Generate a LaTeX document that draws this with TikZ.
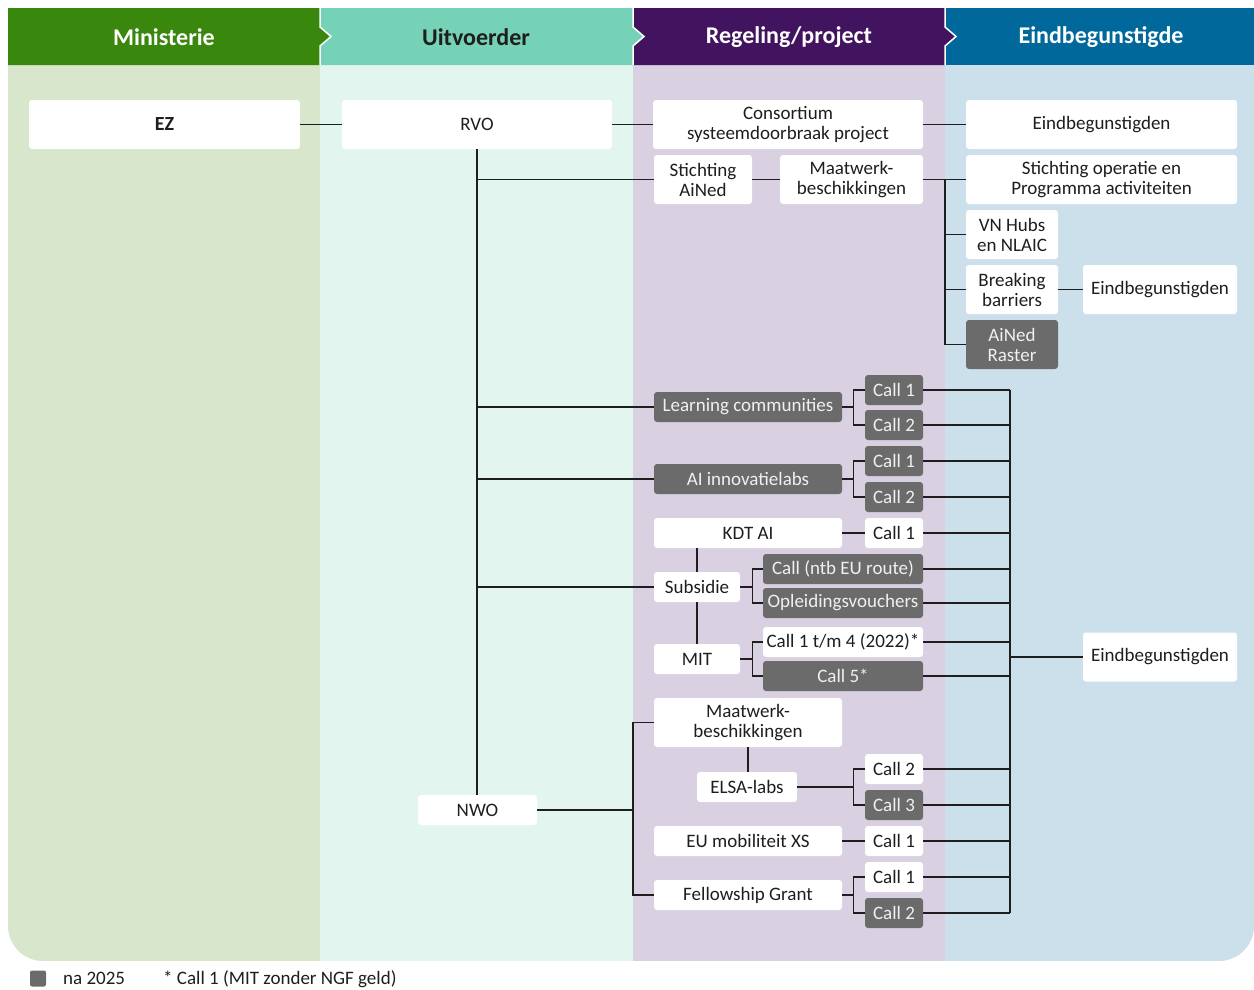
\documentclass[tikz,border=0pt]{standalone}
\usepackage{fontspec}
\setmainfont{Carlito}
\usetikzlibrary{positioning}

\definecolor{minKop}{HTML}{39870C}
\definecolor{uitKop}{HTML}{76D2B6}
\definecolor{regKop}{HTML}{42145F}
\definecolor{eindKop}{HTML}{01689B}
\definecolor{minLicht}{HTML}{D8E6CB}
\definecolor{uitLicht}{HTML}{E3F5EF}
\definecolor{regLicht}{HTML}{D9D0E1}
\definecolor{eindLicht}{HTML}{CCE0EB}
\definecolor{grijs}{HTML}{6B6B6B}
\definecolor{tekst}{HTML}{1E1E1E}

\tikzset{
  wbox/.style={fill=white, rounded corners=3pt, inner sep=0pt, align=center,
    text=tekst, font=\fontsize{19}{20}\selectfont},
  gbox/.style={wbox, fill=grijs, text=white!94!black},
  lijn/.style={draw=tekst, line width=1.3pt},
  kop/.style={font=\fontsize{24}{26}\selectfont\bfseries},
}

\begin{document}
\begin{tikzpicture}[x=1pt,y=-1pt]
    \useasboundingbox (0,0) rectangle (1254,989);
    % kolommen
    \begin{scope}
        \clip[rounded corners=35pt] (8,30) rectangle (1254,961);
        \fill[minLicht] (8,30) rectangle (320,961);
        \fill[uitLicht] (320,30) rectangle (633,961);
        \fill[regLicht] (633,30) rectangle (945,961);
        \fill[eindLicht] (945,30) rectangle (1254,961);
    \end{scope}
    % koppen
    \fill[eindKop] (945,8) rectangle (1254,65);
    \fill[regKop] (633,8) -- (945,8) -- (945,27) -- (956,36.5) -- (945,46) -- (945,65) -- (633,65) -- cycle;
    \fill[uitKop] (320,8) -- (633,8) -- (633,27) -- (644,36.5) -- (633,46) -- (633,65) -- (320,65) -- cycle;
    \fill[minKop] (8,8) -- (320,8) -- (320,27) -- (331,36.5) -- (320,46) -- (320,65) -- (8,65) -- cycle;
    \draw[white, line width=1.5pt] (320,8) -- (320,27) -- (331,36.5) -- (320,46) -- (320,65);
    \draw[white, line width=1.5pt] (633,8) -- (633,27) -- (644,36.5) -- (633,46) -- (633,65);
    \draw[white, line width=1.5pt] (945,8) -- (945,27) -- (956,36.5) -- (945,46) -- (945,65);
    \node[kop, text=white] (kopMin) at (164,37) {Ministerie};
    \node[kop, text=tekst] (kopUit) at (476,37) {Uitvoerder};
    \node[kop, text=white] (kopReg) at (789,37) {Regeling/project};
    \node[kop, text=white] (kopEind) at (1101,37) {Eindbegunstigde};

    % ministerie en uitvoerders
    \node[wbox, minimum width=271pt, minimum height=49pt, font=\fontsize{20}{20}\selectfont\bfseries] (ez) at (164.5,124.5) {EZ};
    \node[wbox, minimum width=270pt, minimum height=49pt] (rvo) at (477,124.5) {RVO};
    \node[wbox, minimum width=119pt, minimum height=30pt] (nwo) at (477.5,810) {NWO};

    % RVO regelingen
    \node[wbox, minimum width=270pt, minimum height=49pt] (consortium) at (788,124.5) {Consortium\\systeemdoorbraak project};
    \node[wbox, minimum width=98pt, minimum height=49pt] (stAined) at (703,179.5) {Stichting\\AiNed};
    \node[wbox, minimum width=143pt, minimum height=49pt] (mwRvo) at (851.5,179.5) {Maatwerk-\\beschikkingen};
    \node[gbox, minimum width=188pt, minimum height=30pt] (learning) at (748,407) {Learning communities};
    \node[gbox, minimum width=58pt, minimum height=30pt] (lcCall1) at (894,390) {Call 1};
    \node[gbox, minimum width=58pt, minimum height=30pt] (lcCall2) at (894,425) {Call 2};
    \node[gbox, minimum width=188pt, minimum height=30pt] (innovatie) at (748,479) {AI innovatielabs};
    \node[gbox, minimum width=58pt, minimum height=30pt] (ilCall1) at (894,461) {Call 1};
    \node[gbox, minimum width=58pt, minimum height=30pt] (ilCall2) at (894,497) {Call 2};
    \node[wbox, minimum width=188pt, minimum height=30pt] (kdt) at (748,533) {KDT AI};
    \node[wbox, minimum width=58pt, minimum height=30pt] (kdtCall1) at (894,533) {Call 1};
    \node[wbox, minimum width=86pt, minimum height=30pt] (subsidie) at (697,587) {Subsidie};
    \node[gbox, minimum width=160pt, minimum height=30pt] (ntbEU) at (843,569) {Call (ntb EU route)};
    \node[gbox, minimum width=160pt, minimum height=30pt] (vouchers) at (843,603) {Opleidingsvouchers};
    \node[wbox, minimum width=86pt, minimum height=30pt] (mit) at (697,659) {MIT};
    \node[wbox, minimum width=160pt, minimum height=30pt] (mitCall14) at (843,642) {Call 1 t/m 4 (2022)*};
    \node[gbox, minimum width=160pt, minimum height=30pt] (mitCall5) at (843,676) {Call 5*};

    % NWO regelingen
    \node[wbox, minimum width=188pt, minimum height=49pt] (mwNwo) at (748,722.5) {Maatwerk-\\beschikkingen};
    \node[wbox, minimum width=100pt, minimum height=30pt] (elsa) at (747,787) {ELSA-labs};
    \node[wbox, minimum width=58pt, minimum height=30pt] (elsaCall2) at (894,769) {Call 2};
    \node[gbox, minimum width=58pt, minimum height=30pt] (elsaCall3) at (894,805) {Call 3};
    \node[wbox, minimum width=188pt, minimum height=30pt] (euMob) at (748,841) {EU mobiliteit XS};
    \node[wbox, minimum width=58pt, minimum height=30pt] (euCall1) at (894,841) {Call 1};
    \node[wbox, minimum width=188pt, minimum height=30pt] (fellow) at (748,895) {Fellowship Grant};
    \node[wbox, minimum width=58pt, minimum height=30pt] (fgCall1) at (894,877) {Call 1};
    \node[gbox, minimum width=58pt, minimum height=30pt] (fgCall2) at (894,913) {Call 2};

    % eindbegunstigden
    \node[wbox, minimum width=271pt, minimum height=49pt] (eindA) at (1101.5,124.5) {Eindbegunstigden};
    \node[wbox, minimum width=271pt, minimum height=49pt] (stOperatie) at (1101.5,179.5) {Stichting operatie en\\Programma activiteiten};
    \node[wbox, minimum width=92pt, minimum height=49pt] (vnHubs) at (1012,234.5) {VN Hubs\\en NLAIC};
    \node[wbox, minimum width=92pt, minimum height=49pt] (breaking) at (1012,289.5) {Breaking\\barriers};
    \node[wbox, minimum width=154pt, minimum height=49pt] (eindB) at (1160,289.5) {Eindbegunstigden};
    \node[gbox, minimum width=92pt, minimum height=49pt] (ainedRaster) at (1012,344.5) {AiNed\\Raster};
    \node[wbox, minimum width=154pt, minimum height=49pt] (eindC) at (1160,657) {Eindbegunstigden};

    % lijnen bovenaan
    \draw[lijn] (ez.east) -- (rvo.west);
    \draw[lijn] (rvo.east) -- (consortium.west);
    \draw[lijn] (consortium.east) -- (eindA.west);
    \draw[lijn] (stAined.east) -- (mwRvo.west);
    \draw[lijn] (mwRvo.east) -- (stOperatie.west);
    \coordinate (vorkMw) at (945,179.5);
    \draw[lijn] (vorkMw) |- (ainedRaster.west);
    \draw[lijn] (vorkMw |- vnHubs.west) -- (vnHubs.west);
    \draw[lijn] (vorkMw |- breaking.west) -- (breaking.west);
    \draw[lijn] (breaking.east) -- (eindB.west);

    % RVO stam
    \draw[lijn] (rvo.south) -- (rvo.south |- nwo.north);
    \draw[lijn] (rvo.south |- stAined.west) -- (stAined.west);
    \draw[lijn] (rvo.south |- learning.west) -- (learning.west);
    \draw[lijn] (rvo.south |- innovatie.west) -- (innovatie.west);
    \draw[lijn] (rvo.south |- subsidie.west) -- (subsidie.west);

    % vorken naar calls
    \draw[lijn] (learning.east) -- ++(11,0) |- (lcCall1.west);
    \draw[lijn] (learning.east) -- ++(11,0) |- (lcCall2.west);
    \draw[lijn] (innovatie.east) -- ++(11,0) |- (ilCall1.west);
    \draw[lijn] (innovatie.east) -- ++(11,0) |- (ilCall2.west);
    \draw[lijn] (kdt.east) -- (kdtCall1.west);
    \draw[lijn] (kdt.south -| subsidie.north) -- (subsidie.north);
    \draw[lijn] (subsidie.south) -- (mit.north);
    \draw[lijn] (subsidie.east) -- ++(12,0) |- (ntbEU.west);
    \draw[lijn] (subsidie.east) -- ++(12,0) |- (vouchers.west);
    \draw[lijn] (mit.east) -- ++(12,0) |- (mitCall14.west);
    \draw[lijn] (mit.east) -- ++(12,0) |- (mitCall5.west);

    % NWO
    \coordinate (vorkNwo) at (633,810);
    \draw[lijn] (nwo.east) -- (vorkNwo);
    \draw[lijn] (mwNwo.west) -| (vorkNwo) |- (fellow.west);
    \draw[lijn] (mwNwo.south) -- (mwNwo.south |- elsa.north);
    \draw[lijn] (elsa.east) -- ++(56,0) |- (elsaCall2.west);
    \draw[lijn] (elsa.east) -- ++(56,0) |- (elsaCall3.west);
    \draw[lijn] (euMob.east) -- (euCall1.west);
    \draw[lijn] (fellow.east) -- ++(11,0) |- (fgCall1.west);
    \draw[lijn] (fellow.east) -- ++(11,0) |- (fgCall2.west);

    % verzamellijn naar eindbegunstigden
    \coordinate (bus) at (1010,657);
    \draw[lijn] (lcCall1.east -| bus) -- (fgCall2.east -| bus);
    \draw[lijn] (lcCall1.east) -- (lcCall1.east -| bus);
    \draw[lijn] (lcCall2.east) -- (lcCall2.east -| bus);
    \draw[lijn] (ilCall1.east) -- (ilCall1.east -| bus);
    \draw[lijn] (ilCall2.east) -- (ilCall2.east -| bus);
    \draw[lijn] (kdtCall1.east) -- (kdtCall1.east -| bus);
    \draw[lijn] (ntbEU.east) -- (ntbEU.east -| bus);
    \draw[lijn] (vouchers.east) -- (vouchers.east -| bus);
    \draw[lijn] (mitCall14.east) -- (mitCall14.east -| bus);
    \draw[lijn] (mitCall5.east) -- (mitCall5.east -| bus);
    \draw[lijn] (elsaCall2.east) -- (elsaCall2.east -| bus);
    \draw[lijn] (elsaCall3.east) -- (elsaCall3.east -| bus);
    \draw[lijn] (euCall1.east) -- (euCall1.east -| bus);
    \draw[lijn] (fgCall1.east) -- (fgCall1.east -| bus);
    \draw[lijn] (fgCall2.east) -- (fgCall2.east -| bus);
    \draw[lijn] (bus) -- (eindC.west);

    % legenda
    \node[fill=grijs, rounded corners=2pt, minimum size=16pt, inner sep=0pt] (legBlok) at (38,978.5) {};
    \node[anchor=west, inner sep=0pt, text=tekst, font=\fontsize{19}{20}\selectfont] (legNa) at (63,978.5) {na 2025};
    \node[anchor=west, inner sep=0pt, text=tekst, font=\fontsize{19}{20}\selectfont] (legSter) at (163,979) {* Call 1 (MIT zonder NGF geld)};
\end{tikzpicture}
\end{document}
